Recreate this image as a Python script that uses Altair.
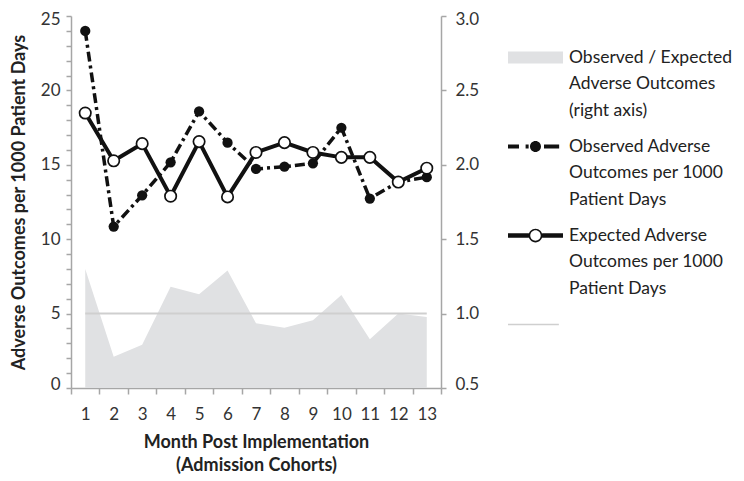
import json
import altair as alt
import pandas as pd

# ---------------- data ----------------
months = list(range(1, 14))
observed = [24.0, 10.85, 12.95, 15.17, 18.59, 16.49, 14.72, 14.87, 15.10, 17.49, 12.73, 13.85, 14.17]
expected = [18.48, 15.27, 16.42, 12.89, 16.56, 12.84, 15.83, 16.49, 15.83, 15.50, 15.50, 13.84, 14.77]
ratio = [1.30, 0.71, 0.79, 1.18, 1.13, 1.29, 0.935, 0.905, 0.955, 1.125, 0.827, 1.00, 0.977]
reference_ratio = 1.0

left_ticks = list(range(0, 26))
right_ticks = [0.5, 1.0, 1.5, 2.0, 2.5, 3.0]

legend_keys = ["ratio", "observed", "expected", "reference"]
legend_labels = [
    ["Observed / Expected", "Adverse Outcomes", "(right axis)"],
    ["Observed Adverse", "Outcomes per 1000", "Patient Days"],
    ["Expected Adverse", "Outcomes per 1000", "Patient Days"],
    [""],
]
legend_fills = ["#e0e1e3", "#111111", "#111111", "#cfcfcf"]

x_title = ["Month Post Implementation", "(Admission Cohorts)"]
y_title = "Adverse Outcomes per 1000 Patient Days"

FONT = "Lato"
AXIS_GRAY = "#a6a6a6"
LABEL_COLOR = "#333333"

df = pd.DataFrame({"month": months, "observed": observed,
                   "expected": expected, "ratio": ratio})

# ---------------- legend symbol shapes (styles) ----------------
SHIFT = 0.0


def rect(x0, x1, h, s):
    return f"M{x0},{s - h}H{x1}V{s + h}H{x0}Z"


def circle(cx, cy, r, sweep=1):
    return (f"M{cx + r},{cy}A{r},{r} 0 1,{sweep} {cx - r},{cy}"
            f"A{r},{r} 0 1,{sweep} {cx + r},{cy}Z")


shape_ratio = rect(-1, 1, 0.22, SHIFT)
shape_obs = (rect(-1, -0.6, 0.075, SHIFT) + rect(-0.36, -0.25, 0.075, SHIFT)
             + circle(0.0, SHIFT, 0.2) + rect(0.31, 0.86, 0.075, SHIFT))
shape_exp = (rect(-1, -0.24, 0.085, SHIFT) + circle(0.0, SHIFT, 0.25, 1)
             + circle(0.0, SHIFT, 0.19, 0) + rect(0.24, 1, 0.085, SHIFT))
shape_ref = rect(-1, 0.85, 0.03, 0)
legend_shapes = [shape_ratio, shape_obs, shape_exp, shape_ref]

label_expr = ""
for k, lab in zip(legend_keys, legend_labels):
    label_expr += f"datum.value == '{k}' ? {json.dumps(lab)} : "
label_expr += "''"

# ---------------- axes ----------------
x_values = sorted([m - 0.5 for m in months] + [months[-1] + 0.5] + months)
x_scale = alt.Scale(domain=[months[0] - 0.5, months[-1] + 0.5], nice=False, zero=False)
x_axis = alt.Axis(
    values=x_values,
    labelExpr="datum.value % 1 == 0 ? format(datum.value, 'd') : ''",
    tickOpacity={"condition": {"test": "datum.value % 1 == 0", "value": 0}, "value": 1},
    title=x_title,
    titleLineHeight=23,
    titlePadding=11,
    tickSize=6,
    labelPadding=12,
    grid=False,
    labelOverlap=False,
)
x_enc = alt.X("month:Q", scale=x_scale, axis=x_axis)

left_axis = alt.Axis(
    values=left_ticks,
    labelExpr="datum.value % 5 == 0 ? datum.label : ''",
    title=y_title,
    orient="left",
    grid=False,
    tickSize=5,
    labelPadding=6,
    titlePadding=12,
    labelFlush=True,
    labelFlushOffset=5,
)
left_scale = alt.Scale(domain=[0, 25], nice=False, zero=False)

right_axis = alt.Axis(
    values=right_ticks,
    format=".1f",
    title=None,
    orient="right",
    grid=False,
    tickSize=5,
    labelPadding=9,
    labelFlush=True,
    labelFlushOffset=5,
)
right_scale = alt.Scale(domain=[0.5, 3.0], nice=False, zero=False)

base = alt.Chart(df)

area = base.mark_area(color="#e0e1e3", opacity=1).encode(
    x=x_enc,
    y=alt.Y("ratio:Q", scale=right_scale, axis=right_axis),
    y2=alt.datum(right_ticks[0]),
)

rule = alt.Chart(pd.DataFrame({"ref": [reference_ratio]})).mark_rule(
    color="#cfcfcf", strokeWidth=2
).encode(
    x=alt.X("x0:Q", scale=x_scale, axis=x_axis),
    x2="x1:Q",
    y=alt.Y("ref:Q", scale=right_scale, axis=right_axis),
).transform_calculate(x0=str(months[0]), x1=str(months[-1]))

right_layer = alt.layer(area, rule)

obs_line = base.mark_line(color="#111111", strokeWidth=3.5, strokeDash=[10, 4, 3, 4]).encode(
    x=x_enc, y=alt.Y("observed:Q", scale=left_scale, axis=left_axis))
obs_pts = base.mark_point(filled=True, color="#111111", size=105, opacity=1).encode(
    x=x_enc, y=alt.Y("observed:Q", scale=left_scale, axis=left_axis))
exp_line = base.mark_line(color="#111111", strokeWidth=4).encode(
    x=x_enc, y=alt.Y("expected:Q", scale=left_scale, axis=left_axis))
exp_pts = base.mark_point(filled=True, fill="white", stroke="#111111", strokeWidth=1.7,
                          size=130, opacity=1).encode(
    x=x_enc, y=alt.Y("expected:Q", scale=left_scale, axis=left_axis))

legend_spec = alt.Legend(
    title=None,
    orient="none",
    legendX=437,
    legendY=14,
    labelExpr=label_expr,
    labelLimit=0,
    labelFontSize=17.5,
    labelFont=FONT,
    labelColor="#222222",
    labelBaseline="middle",
    labelOffset=6,
    symbolSize=3025,
    symbolStrokeWidth=0,
    symbolOpacity=1,
    rowPadding=0,
)

legend_df = pd.DataFrame({"key": legend_keys})
legend_layer = alt.Chart(legend_df).transform_filter("false").mark_point(
    filled=True, size=3025, opacity=1
).encode(
    fill=alt.Fill("key:N", scale=alt.Scale(domain=legend_keys, range=legend_fills), legend=legend_spec),
    shape=alt.Shape("key:N", scale=alt.Scale(domain=legend_keys, range=legend_shapes), legend=legend_spec),
)

left_layer = alt.layer(obs_line, obs_pts, exp_line, exp_pts, legend_layer)

chart = alt.layer(right_layer, left_layer).resolve_scale(
    y="independent"
).properties(
    width=370, height=372,
    padding={"left": 2, "top": 2, "right": 0, "bottom": 0},
).configure(
    style={"guide-label": {"lineHeight": 26.5}}
).configure_view(stroke=None).configure_axis(
    domainColor=AXIS_GRAY,
    domainWidth=1.5,
    tickColor=AXIS_GRAY,
    tickWidth=1.5,
    labelFont=FONT,
    labelFontSize=17,
    labelColor=LABEL_COLOR,
    titleFont=FONT,
    titleFontSize=18,
    titleFontWeight="bold",
    titleColor="#222222",
)

chart.save("out.html", embed_options={"renderer": "svg", "actions": False})
